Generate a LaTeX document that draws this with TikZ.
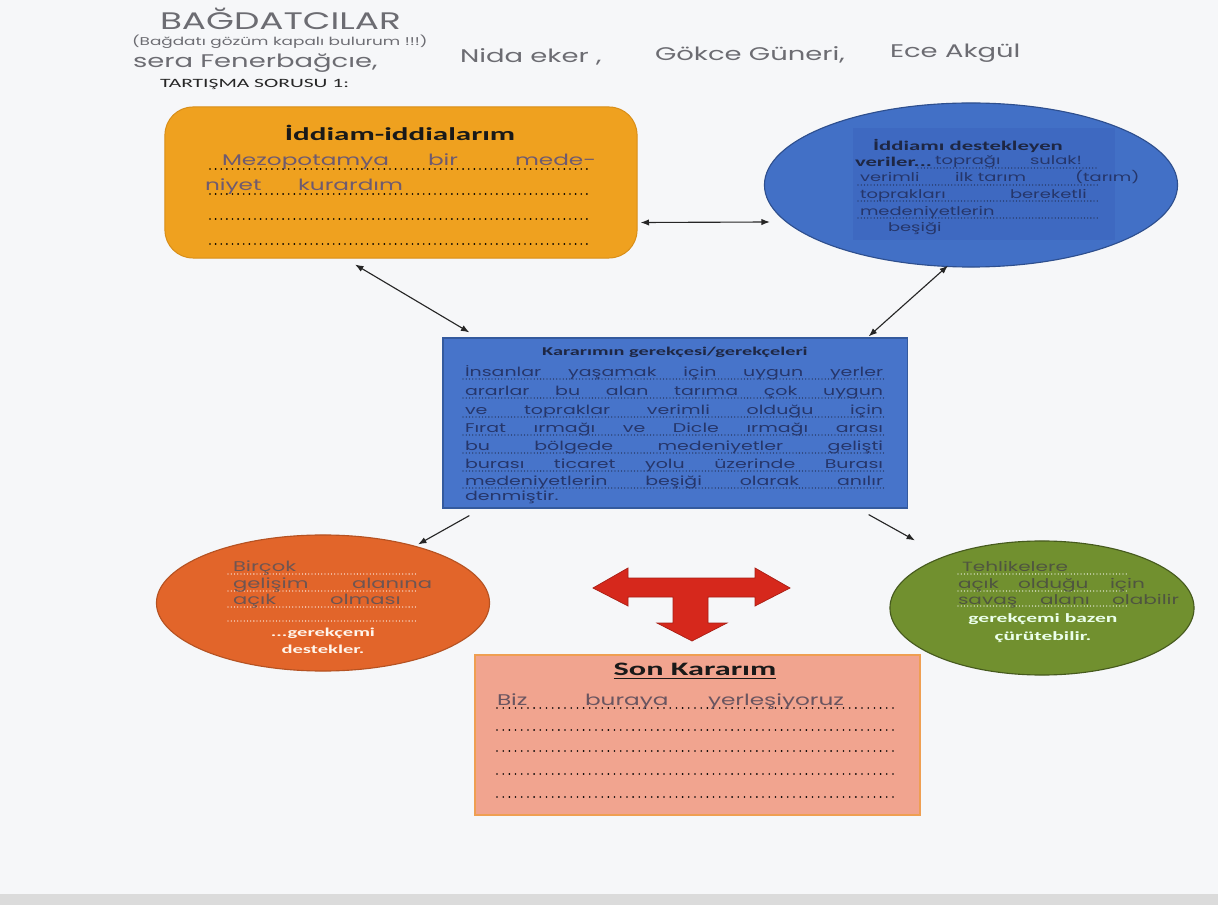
\documentclass[tikz,border=0pt]{standalone}
\usepackage{fontspec}
\setmainfont[FakeStretch=1.7]{Carlito}
\newfontfamily\hand[FakeStretch=1.5]{Poppins}
\usetikzlibrary{arrows.meta,shapes.geometric,calc}
\definecolor{bgc}{HTML}{F6F7F9}
\definecolor{orfill}{HTML}{EFA11F}
\definecolor{ordraw}{HTML}{D88E18}
\definecolor{blfill}{HTML}{4270C6}
\definecolor{bldraw}{HTML}{2E4F8E}
\definecolor{blin}{HTML}{3E69C1}
\definecolor{cbfill}{HTML}{4774CA}
\definecolor{cbdraw}{HTML}{345A9E}
\definecolor{rofill}{HTML}{E2652A}
\definecolor{rodraw}{HTML}{B55222}
\definecolor{grfill}{HTML}{71902F}
\definecolor{grdraw}{HTML}{465A1E}
\definecolor{pkfill}{HTML}{F1A48F}
\definecolor{pkdraw}{HTML}{EF9F52}
\definecolor{rdfill}{HTML}{D6281C}
\definecolor{rddraw}{HTML}{A81E14}
\definecolor{penc}{HTML}{6C6C72}
\definecolor{navy}{HTML}{1E2744}
\definecolor{bluehand}{HTML}{26366A}
\definecolor{orhand}{HTML}{6E5552}
\definecolor{grhand}{HTML}{4F5540}
\definecolor{pkhand}{HTML}{6A5560}
\definecolor{ohand}{HTML}{6E5A70}
\begin{document}
\begin{tikzpicture}[x=0.025cm,y=-0.025cm,
  txt/.style={inner sep=0pt,outer sep=0pt},
  hw/.style={txt,anchor=base west,font=\hand\fontsize{#1}{#1}\selectfont},
  con/.style={draw=black!85,line width=0.8pt,{Latex[length=6pt,width=4.5pt]}-{Latex[length=6pt,width=4.5pt]}},
  con1/.style={draw=black!85,line width=0.8pt,-{Latex[length=6pt,width=4.5pt]}},
  dotb/.style={draw=black,line width=1.4pt,line cap=round,dash pattern=on 0pt off 4pt},
  dots/.style={draw=#1,line width=0.9pt,line cap=round,dash pattern=on 0pt off 2.3pt},
  boxtitle/.style={txt,font=\bfseries\fontsize{#1}{#1}\selectfont}
]
\fill[bgc] (0,0) rectangle (1218,905);
\fill[black!14] (0,894) rectangle (1218,905);

% header handwriting
\node[hw=17,text=penc] (h1) at (160,30) {BAĞDATCILAR};
\node[hw=8,text=penc] (h2) at (132,46) {(Bağdatı gözüm kapalı bulurum !!!)};
\node[hw=13,text=penc] (h3a) at (133,68) {sera Fenerbağcıe,};
\node[hw=13,text=penc] (h3b) at (460,63) {Nida eker ,};
\node[hw=13,text=penc] (h3c) at (655,61) {Gökce Güneri,};
\node[hw=13,text=penc] (h3d) at (890,58) {Ece Akgül};
\node[txt,anchor=base west,font=\fontsize{9}{10}\selectfont,text=black!85] (soru) at (160,88) {TARTIŞMA SORUSU 1:};

% shapes
\node[draw=ordraw,fill=orfill,line width=0.7pt,rounded corners=0.7cm,minimum width=11.8cm,minimum height=3.775cm,inner sep=0pt] (iddia) at (401,182.5) {};
\node[ellipse,draw=bldraw,fill=blfill,line width=0.8pt,minimum width=10.325cm,minimum height=4.1cm,inner sep=0pt] (veri) at (971,185) {};
\begin{scope}
  \clip (971,185) ellipse [x radius=204, y radius=80];
  \fill[blin] (853,128) rectangle (1115,240);
\end{scope}
\node[draw=cbdraw,fill=cbfill,line width=0.8pt,minimum width=11.6cm,minimum height=4.25cm,inner sep=0pt] (gerekce) at (675,423) {};
\node[ellipse,draw=rodraw,fill=rofill,line width=0.8pt,minimum width=8.325cm,minimum height=3.4cm,inner sep=0pt] (destek) at (323,603) {};
\node[ellipse,draw=grdraw,fill=grfill,line width=0.8pt,minimum width=7.6cm,minimum height=3.35cm,inner sep=0pt] (curut) at (1042,608) {};
\node[draw=pkdraw,fill=pkfill,line width=1pt,minimum width=11.125cm,minimum height=4cm,inner sep=0pt] (son) at (697.5,735) {};

% red T arrow
\filldraw[fill=rdfill,draw=rddraw,line width=0.5pt,line join=miter]
  (593,588) -- (628,568) -- (628,578) -- (755,578) -- (755,568) -- (790,588)
  -- (755,606) -- (755,597) -- (708,597) -- (708,623) -- (727,623) -- (692,641)
  -- (657,623) -- (673,623) -- (673,597) -- (628,597) -- (628,606) -- cycle;

% connectors
\draw[con] ([shift={(3,40)}]iddia.east) -- ([shift={(6,37)}]veri.west);
\draw[con] ([shift={(-46,6)}]iddia.south) -- ([shift={(27,-5)}]gerekce.north west);
\draw[con] ([shift={(-23,-2)}]veri.south) -- ([shift={(-39,-1)}]gerekce.north east);
\draw[con1] ([shift={(27,7)}]gerekce.south west) -- ([shift={(95,10)}]destek.north);
\draw[con1] ([shift={(-39,6)}]gerekce.south east) -- ([shift={(-127,0)}]curut.north);

% orange box content
\node[boxtitle=13,text=black!90] (t1) at (400,133) {İddiam-iddialarım};
\foreach \yy in {169,194,219,244} \draw[dotb] (210,\yy) -- (592,\yy);
\node[hw=11,text=ohand] (o1) at (222,166) {Mezopotamya};
\node[hw=11,text=ohand] (o2) at (428,166) {bir};
\node[hw=11,text=ohand] (o3) at (515,166) {mede-};
\node[hw=11,text=ohand] (o4) at (205,191) {niyet};
\node[hw=11,text=ohand] (o5) at (298,191) {kurardım};

% blue ellipse content
\node[boxtitle=9.5,text=navy] (t2) at (968,146) {İddiamı destekleyen};
\node[boxtitle=9.5,text=navy,anchor=base west] (t2b) at (855,167) {veriler...};
\draw[dots=navy] (918,168) -- (1098,168);
\foreach \yy in {185,201,218} \draw[dots=navy] (858,\yy) -- (1098,\yy);
\node[hw=8.5,text=bluehand] (v1) at (935,165) {toprağı};
\node[hw=8.5,text=bluehand] (v2) at (1030,165) {sulak!};
\node[hw=8.5,text=bluehand] (v3) at (860,182) {verimli};
\node[hw=8.5,text=bluehand] (v4) at (955,182) {ilk tarım};
\node[hw=8.5,text=bluehand] (v5) at (1075,182) {(tarım)};
\node[hw=8.5,text=bluehand] (v6) at (860,199) {toprakları};
\node[hw=8.5,text=bluehand] (v7) at (1010,199) {bereketli};
\node[hw=8.5,text=bluehand] (v8) at (860,216) {medeniyetlerin};
\node[hw=8.5,text=bluehand] (v9) at (888,232) {beşiği};

% center box content
\node[boxtitle=8.5,text=navy] (t3) at (675,352) {Kararımın gerekçesi/gerekçeleri};
\foreach \yy in {379,398,417,435,453,471,488} \draw[dots=navy] (463,\yy) -- (885,\yy);
\foreach \yy/\tt [count=\i] in {
  377/{İnsanlar yaşamak için uygun yerler},
  396/{ararlar bu alan tarıma çok uygun},
  415/{ve topraklar verimli olduğu için},
  433/{Fırat ırmağı ve Dicle ırmağı arası},
  451/{bu bölgede medeniyetler gelişti},
  469/{burası ticaret yolu üzerinde Burası},
  486/{medeniyetlerin beşiği olarak anılır}}
  \node[hw=9,text=bluehand] (g\i) at (465,\yy) {\makebox[10.45cm][s]{\tt}};
\node[hw=9,text=bluehand] (g8) at (465,501) {denmiştir.};

% orange circle content
\foreach \yy in {574,591,607,621} \draw[dots=white] (228,\yy) -- (417,\yy);
\node[hw=10,text=orhand] (d1) at (233,571) {Birçok};
\node[hw=10,text=orhand] (d2) at (233,588) {gelişim};
\node[hw=10,text=orhand] (d3) at (352,588) {alanına};
\node[hw=10,text=orhand] (d4) at (233,604) {açık};
\node[hw=10,text=orhand] (d5) at (330,604) {olması};
\node[boxtitle=8.6,text=white!92!orange] (d6) at (323,633) {...gerekçemi};
\node[boxtitle=8.6,text=white!92!orange] (d7) at (323,649) {destekler.};

% green ellipse content
\foreach \yy in {574,591,606} \draw[dots=white] (958,\yy) -- (1128,\yy);
\node[hw=9.5,text=grhand] (c1) at (962,571) {Tehlikelere};
\node[hw=9.5,text=grhand] (c2) at (958,588) {açık};
\node[hw=9.5,text=grhand] (c3) at (1018,588) {olduğu};
\node[hw=9.5,text=grhand] (c4) at (1110,588) {için};
\node[hw=9.5,text=grhand] (c5) at (958,604) {savaş};
\node[hw=9.5,text=grhand] (c6) at (1040,604) {alanı};
\node[hw=9.5,text=grhand] (c7) at (1112,604) {olabilir};
\node[boxtitle=9,text=white!92!green] (c8) at (1043,619) {gerekçemi bazen};
\node[boxtitle=9,text=white!92!green] (c9) at (1043,637) {çürütebilir.};

% pink box content
\node[boxtitle=13.5,text=black!90] (t4) at (695,671) {\underline{Son Kararım}};
\foreach \yy in {708,730,751,774,797} \draw[dotb,line width=1.3pt,dash pattern=on 0pt off 4.4pt] (497,\yy) -- (898,\yy);
\node[hw=11,text=pkhand] (s1) at (497,705) {Biz};
\node[hw=11,text=pkhand] (s2) at (585,705) {buraya};
\node[hw=11,text=pkhand] (s3) at (708,705) {yerleşiyoruz};
\end{tikzpicture}
\end{document}
